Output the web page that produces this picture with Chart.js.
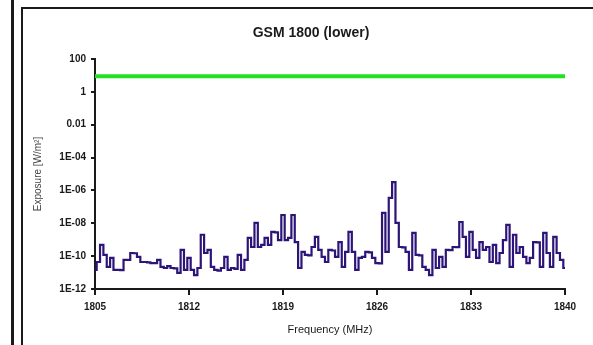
<!DOCTYPE html>
<html lang="en">
    <head>
        <meta charset="UTF-8">
        <title>GSM 1800 (lower)</title>
        <style>
            body {
                margin: 0;
                background: #ffffff;
            }
            #wrap {
                position: relative;
                width: 593px;
                height: 345px;
                overflow: hidden;
            }
            .frame-outer {
                position: absolute;
                left: 11px;
                top: 0;
                height: 345px;
                border-left: 3px solid #1a1a1a;
            }
            .frame-inner {
                position: absolute;
                left: 21px;
                top: 7px;
                right: 0;
                bottom: 0;
                border-left: 2px solid #1a1a1a;
                border-top: 2px solid #1a1a1a;
            }
            canvas {
                position: absolute;
                left: 0;
                top: 0;
            }
        </style>
    </head>

    <body>
        <div id="wrap">
            <div class="frame-outer"></div>
            <div class="frame-inner"></div>
            <canvas id="gsmChart" width="593" height="345"></canvas>
        </div>

        <script src="https://cdn.jsdelivr.net/npm/chart.js"></script>
        <script>
            const chartTitle = 'GSM 1800 (lower)';

            // measured frequencies (MHz)
            const freqs = [
                1805, 1805.25, 1805.5, 1805.75, 1806, 1806.25, 1806.5, 1806.75, 1807, 1807.25,
                1807.5, 1807.75, 1808, 1808.25, 1808.5, 1808.75, 1809, 1809.25, 1809.5, 1809.75,
                1810, 1810.25, 1810.5, 1810.75, 1811, 1811.25, 1811.5, 1811.75, 1812, 1812.25,
                1812.5, 1812.75, 1813, 1813.25, 1813.5, 1813.75, 1814, 1814.25, 1814.5, 1814.75,
                1815, 1815.25, 1815.5, 1815.75, 1816, 1816.25, 1816.5, 1816.75, 1817, 1817.25,
                1817.5, 1817.75, 1818, 1818.25, 1818.5, 1818.75, 1819, 1819.25, 1819.5, 1819.75,
                1820, 1820.25, 1820.5, 1820.75, 1821, 1821.25, 1821.5, 1821.75, 1822, 1822.25,
                1822.5, 1822.75, 1823, 1823.25, 1823.5, 1823.75, 1824, 1824.25, 1824.5, 1824.75,
                1825, 1825.25, 1825.5, 1825.75, 1826, 1826.25, 1826.5, 1826.75, 1827, 1827.25,
                1827.5, 1827.75, 1828, 1828.25, 1828.5, 1828.75, 1829, 1829.25, 1829.5, 1829.75,
                1830, 1830.25, 1830.5, 1830.75, 1831, 1831.25, 1831.5, 1831.75, 1832, 1832.25,
                1832.5, 1832.75, 1833, 1833.25, 1833.5, 1833.75, 1834, 1834.25, 1834.5, 1834.75,
                1835, 1835.25, 1835.5, 1835.75, 1836, 1836.25, 1836.5, 1836.75, 1837, 1837.25,
                1837.5, 1837.75, 1838, 1838.25, 1838.5, 1838.75, 1839, 1839.25, 1839.5, 1839.75,
                1840
            ];

            // exposure values (W/m2)
            const exposure = [
                1.45e-11, 4.4e-11, 4.8e-10, 1.2e-10, 2.2e-11, 7.8e-11, 1.45e-11, 1.45e-11, 1.4e-11, 5.9e-11,
                5.9e-11, 1.55e-10, 1.5e-10, 9e-11, 4.4e-11, 4.4e-11, 4.2e-11, 3.8e-11, 3.8e-11, 5.9e-11,
                2.2e-11, 1.9e-11, 2.5e-11, 1.9e-11, 1.8e-11, 9.5e-12, 2.4e-10, 1.45e-11, 7.8e-11, 1.45e-11,
                7e-12, 1.9e-11, 2e-9, 1.55e-10, 2.4e-10, 2.2e-11, 1.45e-11, 1.3e-11, 1.9e-11, 9e-11,
                1.45e-11, 1.9e-11, 1.7e-11, 1.2e-10, 1.45e-11, 5.9e-11, 1.3e-9, 3.6e-10, 1.05e-8, 3.6e-10,
                4.8e-10, 1.3e-9, 4.8e-10, 3e-9, 2.8e-9, 9.5e-10, 3.2e-8, 9.5e-10, 1.3e-9, 3.2e-8,
                7.2e-10, 1.9e-11, 1.8e-10, 1.2e-10, 1.1e-10, 3.6e-10, 1.5e-9, 2.4e-10, 9e-11, 4.4e-11,
                2.4e-10, 2.2e-10, 9e-11, 7.2e-10, 2.2e-11, 1.8e-10, 3e-9, 1.8e-10, 1.45e-11, 7.8e-11,
                9e-11, 1.8e-10, 1.7e-10, 7.8e-11, 3.8e-11, 3.6e-11, 4.3e-8, 1.8e-10, 3.5e-7, 3.2e-6,
                1.05e-8, 3.6e-10, 3.4e-10, 1.8e-10, 1.45e-11, 2.6e-9, 1.2e-10, 1.1e-10, 2.2e-11, 1.45e-11,
                7e-12, 2.4e-10, 1.9e-11, 9e-11, 2.2e-11, 2.4e-10, 2.3e-10, 3.6e-10, 3.5e-10, 1.2e-8,
                1.5e-9, 9e-11, 3e-9, 2.4e-10, 7.8e-11, 7.2e-10, 2.4e-10, 3.6e-10, 4.4e-11, 4.8e-10,
                3.8e-11, 1.55e-10, 9.5e-10, 8e-9, 2.2e-11, 2e-9, 1.55e-10, 3.6e-10, 9e-11, 3.8e-11,
                7.8e-11, 7.2e-10, 6.8e-10, 2.2e-11, 2.6e-9, 1.55e-10, 2.2e-11, 1.5e-9, 1.55e-10, 5.9e-11,
                1.9e-11
            ];

            // reference level (green line)
            const limitFreqs = [1805, 1840];
            const limitValues = [9, 9];

            const xTickValues = [1805, 1812, 1819, 1826, 1833, 1840];
            const xTickLabels = ['1805', '1812', '1819', '1826', '1833', '1840'];
            const yTickValues = [1e-12, 1e-10, 1e-8, 1e-6, 1e-4, 0.01, 1, 100];
            const yTickLabels = ['1E-12', '1E-10', '1E-08', '1E-06', '1E-04', '0.01', '1', '100'];

            Chart.defaults.font.family = "'Liberation Sans', Arial, sans-serif";
            Chart.defaults.color = '#1a1a1a';

            // title drawn by hand so it can sit where the original one is
            const titlePlugin = {
                id: 'titleText',
                afterDraw(chart) {
                    const ctx = chart.ctx;
                    ctx.save();
                    ctx.font = "bold 14px 'Liberation Sans', Arial, sans-serif";
                    ctx.fillStyle = '#1a1a1a';
                    ctx.textAlign = 'center';
                    ctx.textBaseline = 'middle';
                    ctx.fillText(chartTitle, 311, 33);
                    ctx.restore();
                }
            };

            const ctx = document.getElementById('gsmChart').getContext('2d');
            new Chart(ctx, {
                type: 'line',
                data: {
                    datasets: [
                        {
                            label: 'Limit',
                            data: limitFreqs.map((f, i) => ({ x: f, y: limitValues[i] })),
                            borderColor: '#22e022',
                            borderWidth: 4,
                            pointRadius: 0
                        },
                        {
                            label: 'Exposure',
                            data: freqs.map((f, i) => ({ x: f, y: exposure[i] })),
                            borderColor: '#2c1478',
                            borderWidth: 2.2,
                            pointRadius: 0,
                            stepped: 'middle'
                        }
                    ]
                },
                options: {
                    responsive: false,
                    devicePixelRatio: 1,
                    animation: false,
                    layout: {
                        padding: { left: 22, right: 28, top: 59, bottom: 0 }
                    },
                    plugins: {
                        legend: { display: false },
                        tooltip: { enabled: false }
                    },
                    scales: {
                        x: {
                            type: 'linear',
                            min: 1805,
                            max: 1840,
                            afterFit: (scale) => { scale.height = 56; },
                            afterBuildTicks: (scale) => {
                                scale.ticks = xTickValues.map(v => ({ value: v }));
                            },
                            ticks: {
                                padding: 6,
                                font: { size: 10, weight: 'bold' },
                                maxRotation: 0,
                                callback: (value, index) => xTickLabels[index]
                            },
                            grid: {
                                drawOnChartArea: false,
                                tickLength: 6,
                                color: '#1a1a1a',
                                lineWidth: 2
                            },
                            border: { color: '#1a1a1a', width: 2 },
                            title: {
                                display: true,
                                text: 'Frequency (MHz)',
                                font: { size: 11 },
                                padding: { top: 0, bottom: 8 }
                            }
                        },
                        y: {
                            type: 'logarithmic',
                            min: 1e-12,
                            max: 100,
                            afterFit: (scale) => { scale.width = 73; },
                            afterBuildTicks: (scale) => {
                                scale.ticks = yTickValues.map(v => ({ value: v }));
                            },
                            ticks: {
                                padding: 5,
                                font: { size: 10, weight: 'bold' },
                                callback: (value, index) => yTickLabels[index]
                            },
                            grid: {
                                drawOnChartArea: false,
                                tickLength: 4,
                                color: '#1a1a1a',
                                lineWidth: 2
                            },
                            border: { color: '#1a1a1a', width: 2 },
                            title: {
                                display: true,
                                text: 'Exposure [W/m²]',
                                font: { size: 10 },
                                color: '#444',
                                padding: { top: 10, bottom: 0 }
                            }
                        }
                    }
                },
                plugins: [titlePlugin]
            });
        </script>
    </body>
</html>
